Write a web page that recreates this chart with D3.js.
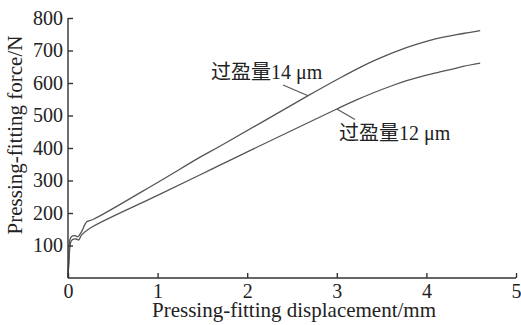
<!DOCTYPE html>
<html>
<head>
    <meta charset="utf-8">
    <title>Pressing-fitting force</title>
    <script src="https://d3js.org/d3.v7.min.js"></script>
    <style>
        body { margin: 0; background: #fff; }
        svg text { font-family: "Liberation Serif", "Noto Sans CJK SC", serif; fill: #222; }
        .axis path, .axis line { stroke: #333; stroke-width: 1.4; }
        .curve { fill: none; stroke: #555; stroke-width: 1.3; }
    </style>
</head>
<body>
<script>
    // values (displacement in mm, force in N)
    var disp14 = [0, 0.01, 0.02, 0.04, 0.08, 0.11, 0.15, 0.21, 0.28, 1.0, 1.47, 1.70, 2.68, 3.04, 3.26, 3.41, 3.56, 3.71, 3.87, 4.04, 4.19, 4.34, 4.47, 4.60];
    var force14 = [0, 60, 117, 128, 130, 127, 142, 173, 180, 294, 371, 406, 561, 616, 648, 668, 686, 702, 717, 731, 741, 749, 755, 761];

    var disp12 = [0, 0.01, 0.03, 0.05, 0.09, 0.12, 0.15, 0.245, 1.0, 1.47, 1.70, 2.03, 3.0, 3.22, 3.41, 3.6, 3.78, 3.97, 4.15, 4.28, 4.41, 4.60];
    var force12 = [0, 50, 110, 118, 120, 117, 132, 153, 254, 317, 348, 392, 520, 548, 570, 590, 607, 622, 634, 642, 651, 661];

    var xTicks = [0, 1, 2, 3, 4, 5];
    var yTicks = [100, 200, 300, 400, 500, 600, 700, 800];

    var labels = ["过盈量14 μm", "过盈量12 μm"];

    var w = 521, h = 325;
    var mLeft = 68, mRight = 516, mTop = 18, mBottom = 278;

    var x = d3.scaleLinear().domain([0, 5]).range([mLeft, mRight]);
    var y = d3.scaleLinear().domain([0, 800]).range([mBottom, mTop]);

    var svg = d3.select("body").append("svg")
        .attr("width", w)
        .attr("height", h);

    var line = d3.line()
        .x(function (d) { return x(d[0]); })
        .y(function (d) { return y(d[1]); })
        .curve(d3.curveCatmullRom.alpha(0.5));

    var series = [
        d3.zip(disp14, force14),
        d3.zip(disp12, force12)
    ];

    svg.selectAll(".curve")
        .data(series)
        .enter()
        .append("path")
        .attr("class", "curve")
        .attr("d", line);

    // x axis, ticks pointing inward
    svg.append("g")
        .attr("class", "axis")
        .attr("transform", "translate(0," + mBottom + ")")
        .call(d3.axisBottom(x).tickValues(xTicks).tickSizeInner(-5).tickSizeOuter(0).tickPadding(6).tickFormat(d3.format("d")))
        .call(function (g) { g.select(".domain").attr("d", "M" + mLeft + ",0H" + mRight); });

    // y axis
    svg.append("g")
        .attr("class", "axis")
        .attr("transform", "translate(" + mLeft + ",0)")
        .call(d3.axisLeft(y).tickValues(yTicks).tickSizeInner(-5).tickSizeOuter(0).tickPadding(5))
        .call(function (g) { g.select(".domain").attr("d", "M0," + mTop + "V" + mBottom); });

    svg.selectAll(".axis text").attr("font-size", 20).attr("fill", "#222")
        .attr("font-family", "Liberation Serif");

    // axis titles
    svg.append("text")
        .attr("x", 294)
        .attr("y", 317)
        .attr("text-anchor", "middle")
        .attr("font-size", 21)
        .text("Pressing-fitting displacement/mm");

    svg.append("text")
        .attr("transform", "translate(22,135) rotate(-90)")
        .attr("text-anchor", "middle")
        .attr("font-size", 21)
        .text("Pressing-fitting force/N");

    // curve annotations with leader lines
    svg.append("line")
        .attr("x1", 283).attr("y1", y(594))
        .attr("x2", x(2.68)).attr("y2", y(561))
        .attr("stroke", "#555").attr("stroke-width", 1.1);
    svg.append("text")
        .attr("x", 211).attr("y", 79)
        .attr("font-size", 20)
        .text(labels[0]);

    svg.append("line")
        .attr("x1", x(3.0)).attr("y1", y(520))
        .attr("x2", 355).attr("y2", y(488))
        .attr("stroke", "#555").attr("stroke-width", 1.1);
    svg.append("text")
        .attr("x", 339).attr("y", 140)
        .attr("font-size", 20)
        .text(labels[1]);
</script>
</body>
</html>
